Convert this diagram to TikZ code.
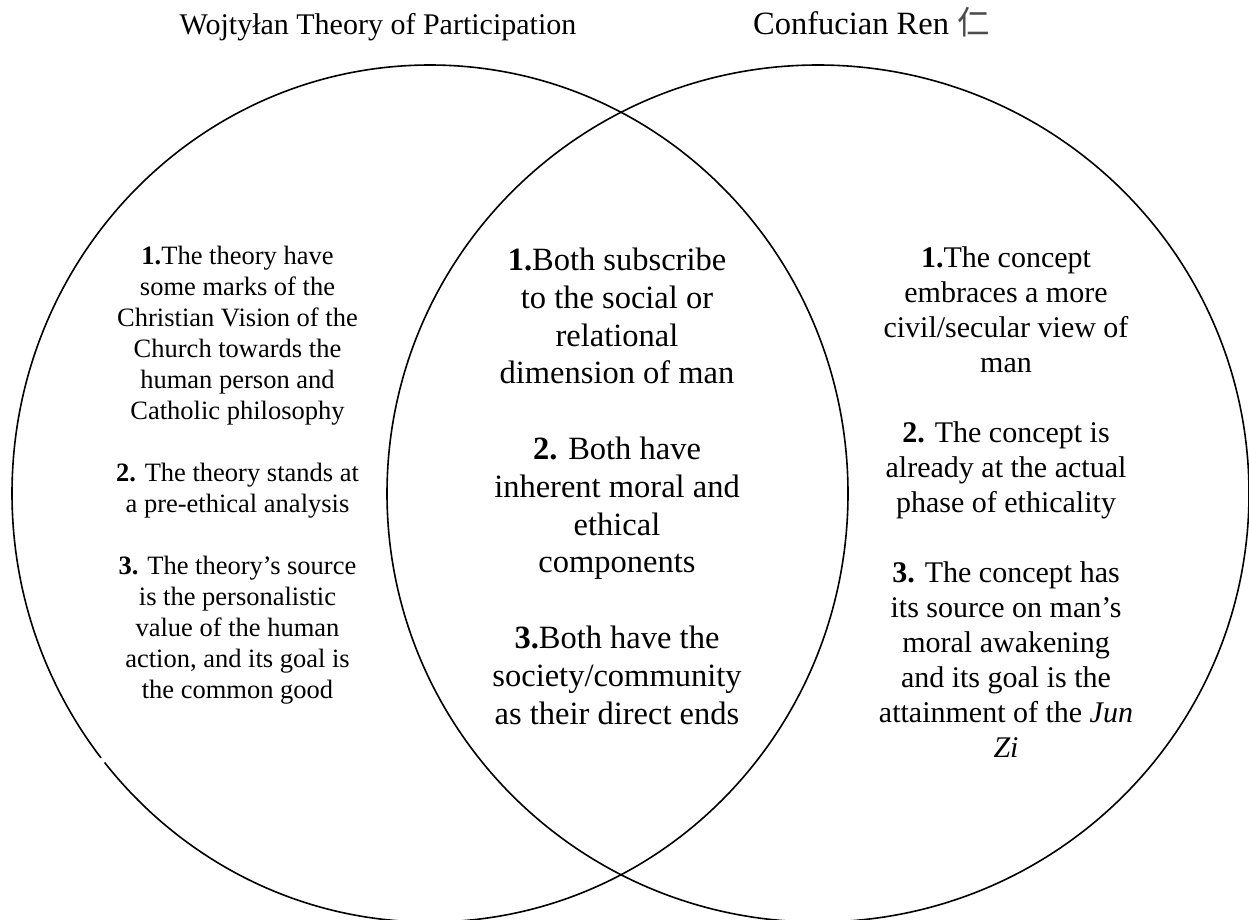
\documentclass[tikz,border=0pt]{standalone}
\usepackage{fontspec}
\setmainfont{Liberation Serif}
\newfontfamily\cjk{Noto Sans CJK SC}
\begin{document}
\begin{tikzpicture}[x=1pt,y=-1pt,
  ring/.style={draw=black,line width=1.6pt},
  titletext/.style={font=\fontsize{30}{36}\selectfont,inner sep=0pt},
  sidetext/.style={align=center,inner sep=0pt,anchor=north},
  lefttext/.style={sidetext,font=\fontsize{26.5}{31}\selectfont},
  midtext/.style={sidetext,font=\fontsize{32.5}{37.8}\selectfont},
  righttext/.style={sidetext,font=\fontsize{30}{35}\selectfont}]
\useasboundingbox[fill=white] (0,0) rectangle (1249,919);
\begin{scope}
\clip (0,0) rectangle (1249,919);
\draw[ring] (430,493.5) ellipse [x radius=418, y radius=428.5];
\draw[ring] (818,493.5) ellipse [x radius=431, y radius=428.5];
\draw[white,line width=3pt] (101.3,757.8) -- (104.7,762.2);
\end{scope}

\node[titletext,anchor=base] (tl) at (378,34) {Wojtyłan Theory of Participation};
\node[titletext,font=\fontsize{32.5}{38}\selectfont,anchor=base west] (tr) at (753,34) {Confucian Ren {\cjk\color{black!70}仁}};

\node[lefttext] (lt) at (237.5,245.9) {\textbf{1.}The theory have\\some marks of the\\Christian Vision of the\\Church towards the\\human person and\\Catholic philosophy\\[31pt]\textbf{2.} The theory stands at\\a pre-ethical analysis\\[31pt]\textbf{3.} The theory’s source\\is the personalistic\\value of the human\\action, and its goal is\\the common good};

\node[midtext] (mt) at (617,247.8) {\textbf{1.}Both subscribe\\to the social or\\relational\\dimension of man\\[37.8pt]\textbf{2.} Both have\\inherent moral and\\ethical\\components\\[37.8pt]\textbf{3.}Both have the\\society/community\\as their direct ends};

\node[righttext] (rt) at (1006,246.2) {\textbf{1.}The concept\\embraces a more\\civil/secular view of\\man\\[35pt]\textbf{2.} The concept is\\already at the actual\\phase of ethicality\\[35pt]\textbf{3.} The concept has\\its source on man’s\\moral awakening\\and its goal is the\\attainment of the \textit{Jun}\\\textit{Zi}};
\end{tikzpicture}
\end{document}
